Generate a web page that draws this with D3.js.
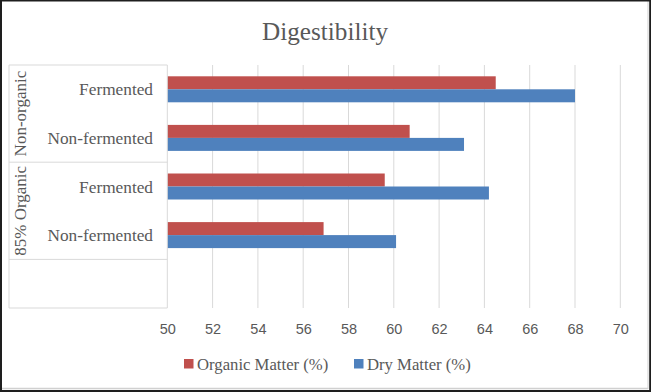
<!DOCTYPE html>
<html>
<head>
<meta charset="utf-8">
<script src="https://cdn.jsdelivr.net/npm/d3@7"></script>
<style>
  html, body { margin: 0; padding: 0; background: #fff; }
  svg { display: block; }
</style>
</head>
<body>
<svg id="chart" width="651" height="392"></svg>
<script>
const title = "Digestibility";
const groups = ["Non-organic", "85% Organic"];
const categories = ["Fermented", "Non-fermented", "Fermented", "Non-fermented"];
const categoryGroups = ["Non-organic", "Non-organic", "85% Organic", "85% Organic"];
const organicMatter = [64.5, 60.7, 59.6, 56.9];
const dryMatter = [68.0, 63.1, 64.2, 60.1];
const seriesNames = ["Organic Matter (%)", "Dry Matter (%)"];
const seriesColors = ["#C0504D", "#4F81BD"];
const xTicks = [50, 52, 54, 56, 58, 60, 62, 64, 66, 68, 70];

const svg = d3.select("#chart");
const W = 651, H = 392;
const textColor = "#595959";
const gridColor = "#D9D9D9";

// frame
svg.append("rect").attr("x", 0).attr("y", 0).attr("width", W).attr("height", H).attr("fill", "#fff");
svg.append("line").attr("x1", 2).attr("x2", 648).attr("y1", 388.5).attr("y2", 388.5).attr("stroke", "#d0d0d0").attr("stroke-width", 1.5);
svg.append("line").attr("x1", 648).attr("x2", 648).attr("y1", 1).attr("y2", 389).attr("stroke", "#d0d0d0").attr("stroke-width", 1);
svg.append("rect").attr("x", 1).attr("y", 0.5).attr("width", W - 1.8).attr("height", H - 1.5)
  .attr("fill", "none").attr("stroke", "#1e1e1e").attr("stroke-width", 2);

const plot = { left: 167.3, right: 620.3, top: 65, bottom: 308 };

const x = d3.scaleLinear().domain([xTicks[0], xTicks[xTicks.length - 1]]).range([plot.left, plot.right]);
const slots = categories.map((c, i) => String(i)).concat(["blank"]);
const y = d3.scaleBand().domain(slots).range([plot.top, plot.bottom]).padding(0);
const pairH = 26;
const sub = d3.scaleBand().domain(seriesNames).range([0, pairH]).padding(0);

// title
svg.append("text").attr("x", 325).attr("y", 39.5).attr("text-anchor", "middle")
  .attr("font-family", "Liberation Serif, serif").attr("font-size", 25.2).attr("fill", textColor)
  .text(title);

// gridlines
const grid = svg.append("g");
grid.selectAll("line").data(xTicks.slice(1)).join("line")
  .attr("x1", d => x(d)).attr("x2", d => x(d))
  .attr("y1", plot.top).attr("y2", plot.bottom)
  .attr("stroke", gridColor).attr("stroke-width", 1);

// x axis tick labels via d3 axis
const xAxis = d3.axisBottom(x).tickValues(xTicks).tickSize(0).tickPadding(0).tickFormat(d3.format("d"));
const gx = svg.append("g").attr("transform", `translate(0,${plot.bottom})`).call(xAxis);
gx.select(".domain").remove();
gx.selectAll("text").attr("font-family", "Liberation Sans, Arial, sans-serif").attr("font-size", 14.5)
  .attr("fill", textColor).attr("dy", null).attr("y", 26);

// bars
const rows = categories.map((c, i) => ({ key: String(i), values: [organicMatter[i], dryMatter[i]] }));
const rowG = svg.append("g").selectAll("g").data(rows).join("g")
  .attr("transform", d => `translate(0,${y(d.key) + (y.bandwidth() - pairH) / 2})`);
rowG.selectAll("rect").data(d => d.values.map((v, j) => ({ name: seriesNames[j], v, j }))).join("rect")
  .attr("x", x(xTicks[0]))
  .attr("y", d => sub(d.name))
  .attr("width", d => x(d.v) - x(xTicks[0]))
  .attr("height", sub.bandwidth())
  .attr("fill", d => seriesColors[d.j]);

// category axis table
const tableLeft = 9;
const axisLine = svg.append("g").attr("stroke", gridColor).attr("stroke-width", 1).attr("fill", "none");
axisLine.append("line").attr("x1", plot.left).attr("x2", plot.left).attr("y1", plot.top).attr("y2", plot.bottom);
axisLine.append("line").attr("x1", tableLeft).attr("x2", tableLeft).attr("y1", plot.top).attr("y2", plot.bottom);
const groupBounds = groups.map(g => {
  const idx = categoryGroups.map((cg, i) => cg === g ? i : -1).filter(i => i >= 0);
  const top = y(String(idx[0]));
  const bot = y(String(idx[idx.length - 1])) + y.bandwidth();
  return { g, top, bot };
});
const hLines = [plot.top].concat(groupBounds.map(b => b.bot)).concat([plot.bottom]);
axisLine.selectAll("line.h").data(hLines).join("line").attr("class", "h")
  .attr("x1", tableLeft).attr("x2", plot.left).attr("y1", d => d).attr("y2", d => d);

// category labels
svg.append("g").selectAll("text").data(rows).join("text")
  .attr("x", 153).attr("y", d => y(d.key) + y.bandwidth() / 2 + 6)
  .attr("text-anchor", "end")
  .attr("font-family", "Liberation Serif, serif").attr("font-size", 17.3).attr("fill", textColor)
  .text((d, i) => categories[i]);

// group labels (rotated)
svg.append("g").selectAll("text").data(groupBounds).join("text")
  .attr("transform", d => `translate(26,${(d.top + d.bot) / 2}) rotate(-90)`)
  .attr("text-anchor", "middle")
  .attr("font-family", "Liberation Serif, serif").attr("font-size", 17).attr("fill", textColor)
  .text(d => d.g);

// legend
const legendItems = [
  { name: seriesNames[0], color: seriesColors[0], sx: 184, tx: 197 },
  { name: seriesNames[1], color: seriesColors[1], sx: 354, tx: 367 }
];
const lg = svg.append("g");
lg.selectAll("rect").data(legendItems).join("rect")
  .attr("x", d => d.sx).attr("y", 359).attr("width", 9.5).attr("height", 9.5).attr("fill", d => d.color);
lg.selectAll("text").data(legendItems).join("text")
  .attr("x", d => d.tx).attr("y", 369.5)
  .attr("font-family", "Liberation Serif, serif").attr("font-size", 16.7).attr("fill", textColor)
  .text(d => d.name);
</script>
</body>
</html>
